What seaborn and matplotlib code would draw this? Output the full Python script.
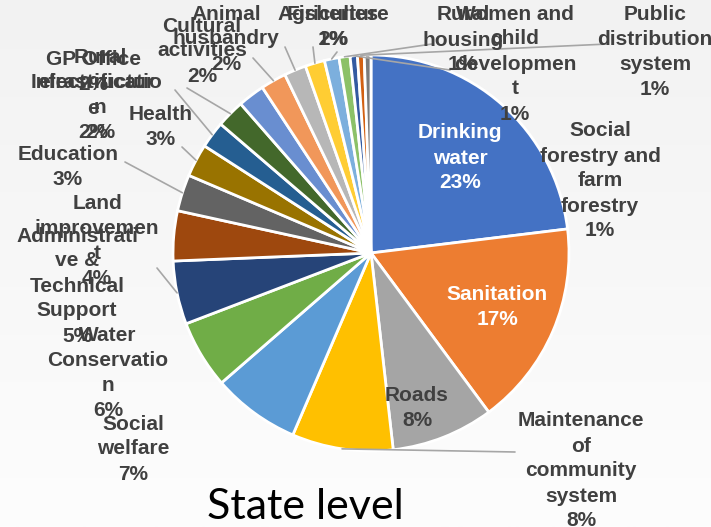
# pie chart "State level" - share of spending by sector

import matplotlib.pyplot as plt
import numpy as np
import seaborn as sns

# slice names (line breaks as in the original chart)
names = [
    'Drinking\nwater', 'Sanitation', 'Roads',
    'Maintenance\nof\ncommunity\nsystem', 'Social\nwelfare',
    'Water\nConservatio\nn', 'Administrati\nve &\nTechnical\nSupport',
    'Land\nimprovemen\nt', 'Education', 'Health', 'Infrastructur\ne',
    'Rural\nelectrificatio\nn', 'GP Office', 'Cultural\nactivities',
    'Animal\nhusbandry', 'Agriculture', 'Fisheries', 'Rural\nhousing',
    'Women and\nchild\ndevelopmen\nt', 'Public\ndistribution\nsystem',
    'Social\nforestry and\nfarm\nforestry',
]
# shares in percent
values = [23.2, 16.9, 8.4, 8.3, 7.2, 5.6, 5.2, 4.1, 3.0, 2.7, 2.2,
          2.3, 2.2, 2.1, 1.8, 1.6, 1.2, 0.9, 0.6, 0.55, 0.55]
colors = [
    '#4472C4', '#ED7D31', '#A5A5A5', '#FFC000', '#5B9BD5', '#70AD47',
    '#264478', '#9E480E', '#636363', '#997300', '#255E91', '#43682B',
    '#698ED0', '#F1975A', '#B7B7B7', '#FFCD33', '#7CAFDD', '#8CC168',
    '#335AA1', '#D26012', '#7B7B7B',
]

W, H = 711, 527

# label centres in pixels (from top left) and start of leader line
label_pos = [(460, 158), (497, 307), (417, 408), (581, 471), (133, 449),
             (108, 373), (77, 286), (97, 241), (68, 167), (161, 127),
             (93, 108), (100, 95), (93, 72), (202, 51), (226, 39),
             (333, 27), (333, 27), (463, 40), (515, 64), (655, 52),
             (600, 181)]
leader = [None, None, None, (515, 452), None, None, (157, 268), None,
          (125, 162), (182, 147), (175, 90), (187, 88), None, (253, 58),
          (285, 47), (313, 47), (337, 52), (432, 44), (450, 70), (608, 44),
          None]

sns.set_theme(style='white')
plt.rcParams['font.family'] = ['Liberation Sans', 'DejaVu Sans']

fig = plt.figure(figsize=(W / 100, H / 100), dpi=100)
ax = fig.add_axes([0, 0, 1, 1])

# light gray gradient background
grad = np.linspace(0, 1, 200)[:, None]
top = np.array([242, 242, 242]) / 255
bot = np.array([253, 253, 253]) / 255
img = top + (bot - top) * grad[..., None]
ax.imshow(img, extent=[0, W, 0, H], aspect='auto', zorder=0)

cx, cy, r = 371, H - 253, 198
wedges, _ = ax.pie(values, colors=colors, startangle=90, counterclock=False,
                   center=(cx, cy), radius=r,
                   wedgeprops=dict(edgecolor='white', linewidth=2))

total = sum(values)
for i, w in enumerate(wedges):
    pct = round(values[i] / total * 100)
    txt = f'{names[i]}\n{pct}%'
    col = 'white' if i < 2 else '#404040'
    x, y = label_pos[i]
    ax.text(x, H - y, txt, ha='center', va='center', fontsize=15,
            fontweight='bold', color=col, linespacing=1.4, zorder=5)
    if leader[i] is not None:
        mid = np.deg2rad((w.theta1 + w.theta2) / 2)
        mx, my = cx + r * np.cos(mid), cy + r * np.sin(mid)
        lx, ly = leader[i]
        ax.plot([lx, mx], [H - ly, my], color='#A6A6A6', lw=1.2, zorder=2)

ax.text(305, H - 519, 'State level', fontsize=31, family='Lato',
        ha='center', va='baseline', color='black')

ax.set_xlim(0, W)
ax.set_ylim(0, H)
ax.set_axis_off()

fig.savefig('out.png', dpi=100)
